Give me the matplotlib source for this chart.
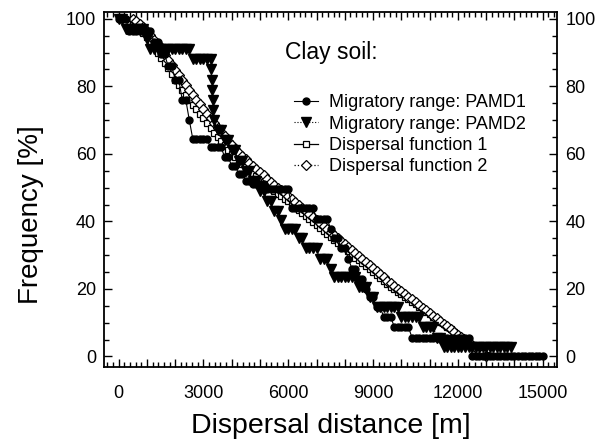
import matplotlib
matplotlib.use("Agg")
import matplotlib.pyplot as plt
import numpy as np
from matplotlib.ticker import MultipleLocator, FuncFormatter

plt.rcParams['font.family'] = ['Liberation Sans', 'DejaVu Sans']

# distances are sampled every 125 m
step = 125
grid = np.arange(0, 15001, step)

# Migratory range PAMD1: step levels [%] and number of 125 m samples on each
pamd1_levels = [100, 96.5, 93, 89.5, 86, 82, 76, 70, 64.3, 62, 59, 56.5, 54,
                52, 51, 49.7, 44, 40.8, 37.8, 35, 32, 29, 26, 23, 20, 17.6,
                14.6, 11.7, 8.7, 5.6, 0]
pamd1_counts = [3, 7, 2, 2, 2, 2, 2, 1, 5, 4, 2, 2, 2,
                2, 4, 7, 7, 4, 1, 2, 2, 1, 2, 2, 1, 2,
                2, 3, 5, 17, 21]

# Migratory range PAMD2
pamd2_levels = [100, 97, 94, 91, 88, 70, 67, 64, 61, 58, 55, 52, 49, 46, 43,
                40.5, 37.8, 35, 32, 29, 26, 23.5, 20.5, 17.6, 14.6, 11.7, 8.7,
                5.6, 2.8]
pamd2_counts = [2, 6, 1, 12, 6, 1, 2, 2, 2, 2, 2, 2, 2, 2, 2,
                1, 4, 2, 4, 3, 1, 7, 3, 2, 7, 6, 4,
                2, 20]
# the sharp drop near 3.3 km
pamd2_drop_x = [3270, 3290, 3310, 3330, 3350]
pamd2_drop_y = [85, 82, 79, 76, 73]

# Dispersal functions, 500 m to 13000 m every 125 m
func_start = 500
func1_y = [99, 98, 97, 95.8, 94.5, 93, 91.5, 90, 88.5, 86.9, 85.3, 83.6,
           82, 80.5, 79, 77.5, 76, 74.6, 73.2, 71.8, 70.5, 69.1, 67.7, 66.3,
           65, 63.7, 62.5, 61.2, 60, 59, 58, 57, 56, 55.1, 54.2, 53.3,
           52.5, 51.6, 50.7, 49.8, 49, 48.2, 47.5, 46.7, 46, 45.1, 44.2, 43.3,
           42.5, 41.6, 40.7, 39.8, 39, 38.1, 37.2, 36.3, 35.5, 34.6, 33.7, 32.8,
           32, 31.1, 30.2, 29.3, 28.5, 27.6, 26.7, 25.8, 25, 24.1, 23.2, 22.3,
           21.5, 20.7, 20, 19.2, 18.5, 17.7, 17, 16.2, 15.5, 14.7, 14, 13.2,
           12.5, 11.7, 11, 10.2, 9.5, 8.7, 8, 7.2, 6.5, 5.7, 5, 4.2,
           3.5, 2.7, 2, 1.2, 0.5]
func2_y = [99.8, 99.2, 98.5, 97.6, 96.5, 95.2, 93.8, 92.4, 90.9, 89.4, 87.9, 86.4,
           84.9, 83.4, 81.9, 80.4, 78.9, 77.5, 76.1, 74.7, 73.3, 71.9, 70.5, 69.1,
           67.8, 66.5, 65.2, 63.9, 62.6, 61.5, 60.4, 59.4, 58.4, 57.4, 56.4, 55.4,
           54.5, 53.6, 52.7, 51.8, 50.9, 50, 49.2, 48.4, 47.6, 46.7, 45.8, 44.9,
           44.1, 43.2, 42.3, 41.4, 40.5, 39.6, 38.7, 37.8, 36.9, 36, 35.1, 34.2,
           33.3, 32.4, 31.5, 30.6, 29.7, 28.8, 27.9, 27, 26.1, 25.2, 24.3, 23.4,
           22.5, 21.7, 20.9, 20.1, 19.3, 18.5, 17.7, 16.9, 16.1, 15.3, 14.5, 13.7,
           12.9, 12.1, 11.3, 10.5, 9.7, 8.9, 8.1, 7.3, 6.5, 5.7, 4.9, 4.1,
           3.3, 2.5, 1.7, 0.9, 0.1]

pamd1_y = np.repeat(pamd1_levels, pamd1_counts)
pamd1_x = grid[:len(pamd1_y)]
p2y = np.repeat(pamd2_levels, pamd2_counts)
p2x = np.concatenate([grid[:len(p2y)], pamd2_drop_x])
p2y = np.concatenate([p2y, pamd2_drop_y])
order = np.argsort(p2x, kind='stable')
pamd2_x, pamd2_y = p2x[order], p2y[order]
func_x = func_start + step * np.arange(len(func1_y))

fig = plt.figure(figsize=(6.04, 4.46), dpi=100)
ax = fig.add_axes([0.173, 0.178, 0.749, 0.795])

ax.plot(pamd1_x, pamd1_y, 'k-', lw=0.8, marker='o', ms=5, zorder=4,
        label="Migratory range: PAMD1")
ax.plot(pamd2_x, pamd2_y, 'k:', lw=0.8, marker='v', ms=6.5, zorder=4,
        label="Migratory range: PAMD2")
ax.plot(func_x, func1_y, 'k-', lw=0.9, marker='s', ms=4.8, mfc='white',
        mew=0.9, zorder=3, label="Dispersal function 1")
ax.plot(func_x, func2_y, 'k:', lw=0.9, marker='D', ms=4.6, mfc='white',
        mew=0.9, zorder=3, label="Dispersal function 2")

ax.set_xlim(-500, 15500)
ax.set_ylim(-3, 102)
ax.xaxis.set_major_locator(MultipleLocator(1000))
ax.xaxis.set_minor_locator(MultipleLocator(200))
ax.xaxis.set_major_formatter(FuncFormatter(
    lambda v, p: "%d" % v if round(v) % 3000 == 0 else ""))
ax.yaxis.set_major_locator(MultipleLocator(20))
ax.yaxis.set_minor_locator(MultipleLocator(5))
ax.tick_params(which='both', direction='in', top=True, right=True,
               labelright=True, labelsize=13, width=1)
ax.tick_params(which='major', length=5.5)
ax.tick_params(which='minor', length=3.5)
ax.tick_params(axis='x', which='major', pad=13)
ax.tick_params(axis='y', which='major', pad=6)
for s in ax.spines.values():
    s.set_linewidth(1.3)

ax.set_xlabel("Dispersal distance [m]", fontsize=20.5, labelpad=8)
ax.set_ylabel("Frequency [%]", fontsize=20)
ax.yaxis.set_label_coords(-0.133, 0.43)

ax.text(0.40, 0.887, "Clay soil:", transform=ax.transAxes, fontsize=16.5,
        va='center')
ax.legend(loc='upper left', bbox_to_anchor=(0.42, 0.768), frameon=False,
          fontsize=13, handlelength=1.3, handletextpad=0.6,
          labelspacing=0.24, borderpad=0, borderaxespad=0)

fig.savefig("out.png", dpi=100)
